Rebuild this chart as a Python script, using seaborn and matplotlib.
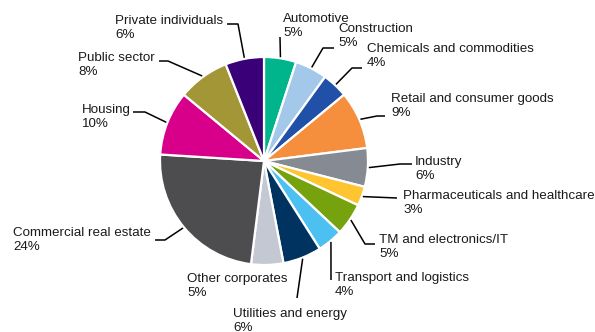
import matplotlib
matplotlib.use("Agg")
import matplotlib.pyplot as plt
import seaborn as sns
import numpy as np

# ---- data ----
categories = ["Automotive", "Construction", "Chemicals and commodities",
              "Retail and consumer goods", "Industry", "Pharmaceuticals and healthcare",
              "TM and electronics/IT", "Transport and logistics", "Utilities and energy",
              "Other corporates", "Commercial real estate", "Housing", "Public sector",
              "Private individuals"]
shares = [5, 5, 4, 9, 6, 3, 5, 4, 6, 5, 24, 10, 8, 6]
colors = ["#00B48C", "#A3C8EA", "#2150A8", "#F58F3E", "#868A93", "#FFC530",
          "#76A30D", "#4CC0F0", "#00335F", "#C4C8D2", "#4D4D4F", "#D8008A",
          "#A39636", "#3A0078"]

# ---- layout (pixel coords, y down; x = text left, y = cap top) ----
W, H = 595, 332
center_px = (264, 161)
radius_px = 104
text_pos = [(283, 13), (338, 23), (367, 43), (391, 93), (415, 156), (403, 190),
            (379, 234), (335, 272), (233, 308), (187, 273), (13, 227), (82, 104),
            (78, 52), (115, 15)]
leader_pts = [[(280, 37)], [(323, 48), (334, 48)], [(352, 68), (362, 68)],
              [(377, 116), (385, 116)], [(400, 164), (412, 164)], [(397, 198)],
              [(365, 244), (375, 244)], [(331, 280)], [(297, 298)], None,
              [(165, 240), (155, 240)], [(145, 112), (133, 112)],
              [(168, 61), (159, 61)], [(238, 24), (227, 24)]]

sns.set_theme(style="white")
plt.rcParams['font.family'] = ['Liberation Sans', 'DejaVu Sans']

fig = plt.figure(figsize=(W / 100, H / 100), dpi=100)
ax = fig.add_axes([0, 0, 1, 1])

def P(x, y):
    return (x, H - y)

wedges, _ = ax.pie(shares, colors=colors, startangle=90, counterclock=False,
                   center=P(*center_px), radius=radius_px,
                   wedgeprops=dict(edgecolor="white", linewidth=1.6))
ax.set_xlim(0, W)
ax.set_ylim(0, H)
ax.set_aspect("equal")
ax.axis("off")

for w, cat, val, tp, pts in zip(wedges, categories, shares, text_pos, leader_pts):
    ang = np.deg2rad((w.theta1 + w.theta2) / 2)
    cx, cy = w.center
    r = w.r * 1.01
    sx, sy = cx + r * np.cos(ang), cy + r * np.sin(ang)
    if pts is not None:
        xs = [sx] + [p[0] for p in pts]
        ys = [sy] + [H - p[1] for p in pts]
        ax.plot(xs, ys, color="black", lw=1.1, solid_capstyle="butt")
    ax.text(tp[0], H - tp[1], f"{cat}\n{val}%", ha="left", va="top",
            fontsize=9.6, color="#1a1a1a", linespacing=1.25)

fig.savefig("out.png", dpi=100)
